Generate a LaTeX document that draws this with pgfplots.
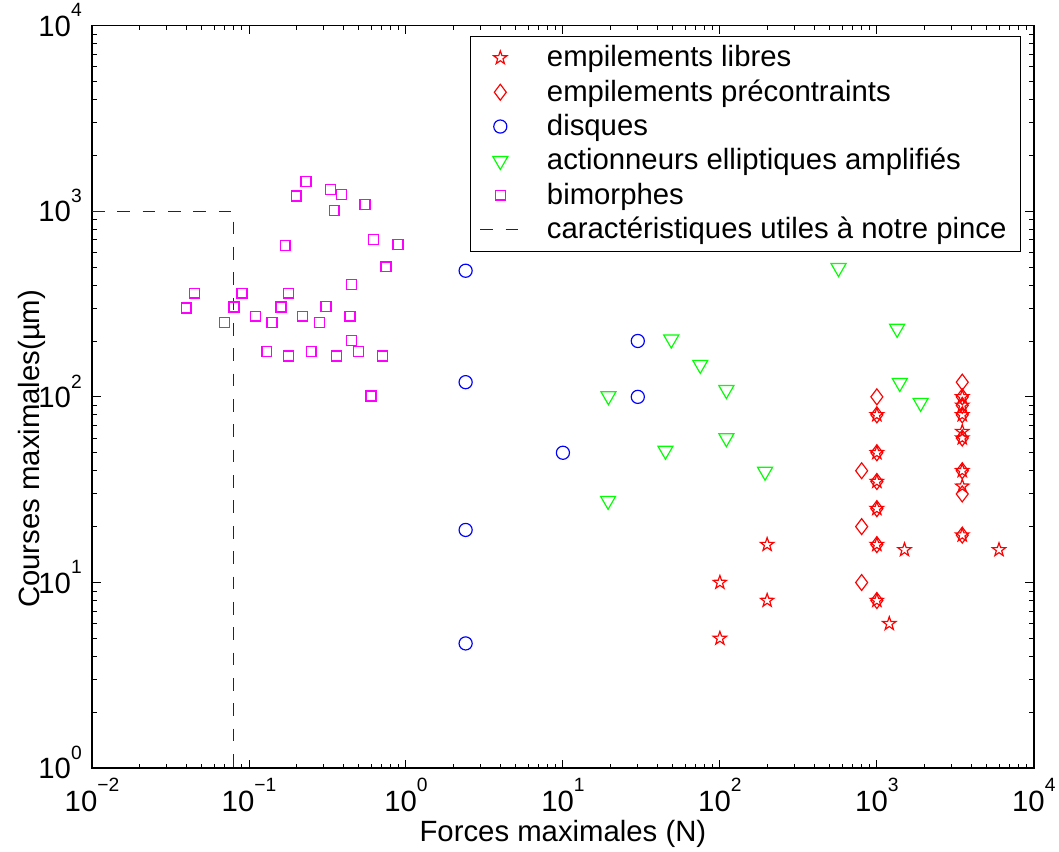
\documentclass[border=0pt]{standalone}
\usepackage{fontspec}
\setmainfont{Liberation Sans}
\usepackage{pgfplots}
\pgfplotsset{compat=1.18}

\definecolor{mred}{rgb}{1,0,0}
\definecolor{mblue}{rgb}{0,0,1}
\definecolor{mgreen}{rgb}{0,1,0}
\definecolor{mmag}{rgb}{1,0,1}

% power of ten, exponent raised as MATLAB sets it
\newcommand{\pten}[1]{10\raisebox{0.66em}{\fontsize{8.2}{8.2}\selectfont #1}}

% outlined five-point star, like the MATLAB pentagram marker
\pgfdeclareplotmark{pentagram}{%
  \pgfpathmoveto{\pgfpointpolar{90}{\pgfplotmarksize}}%
  \pgfpathlineto{\pgfpointpolar{126}{0.40\pgfplotmarksize}}%
  \pgfpathlineto{\pgfpointpolar{162}{\pgfplotmarksize}}%
  \pgfpathlineto{\pgfpointpolar{198}{0.40\pgfplotmarksize}}%
  \pgfpathlineto{\pgfpointpolar{234}{\pgfplotmarksize}}%
  \pgfpathlineto{\pgfpointpolar{270}{0.40\pgfplotmarksize}}%
  \pgfpathlineto{\pgfpointpolar{306}{\pgfplotmarksize}}%
  \pgfpathlineto{\pgfpointpolar{342}{0.40\pgfplotmarksize}}%
  \pgfpathlineto{\pgfpointpolar{18}{\pgfplotmarksize}}%
  \pgfpathlineto{\pgfpointpolar{54}{0.40\pgfplotmarksize}}%
  \pgfpathclose
  \pgfusepathqstroke
}

\begin{document}
\begin{tikzpicture}[font=\fontsize{12.5}{14.5}\selectfont]
\begin{loglogaxis}[
    scale only axis,
    width=14.115cm,
    height=11.13cm,
    xmin=1e-2, xmax=1e4,
    ymin=1, ymax=1e4,
    xtick={1e-2,1e-1,1,10,100,1000,10000},
    xticklabels={\pten{−2},\pten{−1},\pten{0},\pten{1},\pten{2},\pten{3},\pten{4}},
    ytick={1,10,100,1000,10000},
    yticklabels={\pten{0},\pten{1},\pten{2},\pten{3},\pten{4}},
    xlabel={Forces maximales (N)},
    ylabel={Courses maximales(µm)},
    xlabel style={at={(axis description cs:0.5,0)}, anchor=base, yshift=-10.95mm,
                  inner xsep=0pt, inner ysep=1.6pt},
    ylabel style={at={(axis description cs:-0.0553,0.43)}, anchor=base,
                  inner xsep=0pt, inner ysep=2.8mm},
    tick align=inside,
    major tick length=1.3mm,
    minor tick length=0.7mm,
    every tick/.style={black, line width=0.4pt},
    axis line style={line width=0.6pt},
    xticklabel style={anchor=base, yshift=-6.45mm, inner xsep=1.5pt, inner ysep=1pt},
    yticklabel style={anchor=base east, yshift=-4.5pt, xshift=-0.3mm, inner ysep=1.5pt},
    legend cell align=left,
    legend style={
        at={(0.9865,0.9865)},
        anchor=north east,
        draw=black,
        line width=0.5pt,
        fill=white,
        row sep=0pt,
        inner xsep=4pt,
        inner ysep=2pt,
        /tikz/every odd column/.style={column sep=3.2mm},
    },
    legend image code/.code={
        \draw[mark repeat=2,mark phase=2] plot coordinates {(0cm,0cm) (0.3cm,0cm) (0.6cm,0cm)};
    },
]

\addplot[only marks, mred, mark=pentagram, mark size=3pt, line width=0.5pt] coordinates {
    (100,10) (100,5) (200,16) (200,8) (1200,6) (1500,15) (6000,15)
    (1000,80) (1000,50) (1000,35) (1000,25) (1000,16) (1000,8)
    (3500,100) (3500,90) (3500,80) (3500,65) (3500,60) (3500,40) (3500,33) (3500,18)
};
\addlegendentry{empilements libres}

\addplot[only marks, mred, mark=diamond, mark size=3.4pt, line width=0.5pt] coordinates {
    (800,40) (800,20) (800,10)
    (1000,100) (1000,80) (1000,50) (1000,35) (1000,25) (1000,16) (1000,8)
    (3500,120) (3500,100) (3500,90) (3500,80) (3500,60) (3500,40) (3500,30) (3500,18)
};
\addlegendentry{empilements précontraints}

\addplot[only marks, mblue, mark=o, mark size=2.8pt, line width=0.5pt] coordinates {
    (2.4,478) (2.4,120) (2.4,19.2) (2.4,4.7)
    (30,200) (30,100) (10,50)
};
\addlegendentry{disques}

\addplot[only marks, mgreen, mark=triangle, mark size=3.7pt, line width=0.5pt,
         mark options={rotate=180}] coordinates {
    (49,204) (75,149) (110,109) (19.5,101) (110,60) (45,51.4)
    (194,39.6) (19.4,27.6) (570,495) (1346,233) (1400,119) (1900,93)
};
\addlegendentry{actionneurs elliptiques amplifiés}

\addplot[only marks, draw=mmag, mark=square, mark size=2.1pt, line width=0.6pt,
         mark options={draw=mmag, fill=none}] coordinates {
    (0.231,1448) (0.2,1208) (0.33,1312) (0.389,1227) (0.548,1084) (0.349,1007)
    (0.17,654) (0.62,705) (0.89,662) (0.746,502) (0.449,403)
    (0.0449,362) (0.0902,362) (0.179,362)
    (0.0398,301) (0.0802,305) (0.16,305) (0.309,307)
    (0.0698,252) (0.11,272) (0.14,252) (0.219,272) (0.281,252) (0.44,272)
    (0.449,201) (0.13,176) (0.179,166) (0.249,176) (0.36,166) (0.499,176) (0.71,166)
    (0.598,101)
};
\addlegendentry{bimorphes}

\addplot[black!85, line width=0.5pt, dash pattern=on 1.9mm off 1.9mm] coordinates {
    (0.01,1000) (0.08,1000) (0.08,1)
};
\addlegendentry{caractéristiques utiles à notre pince}

\end{loglogaxis}
\end{tikzpicture}
\end{document}
